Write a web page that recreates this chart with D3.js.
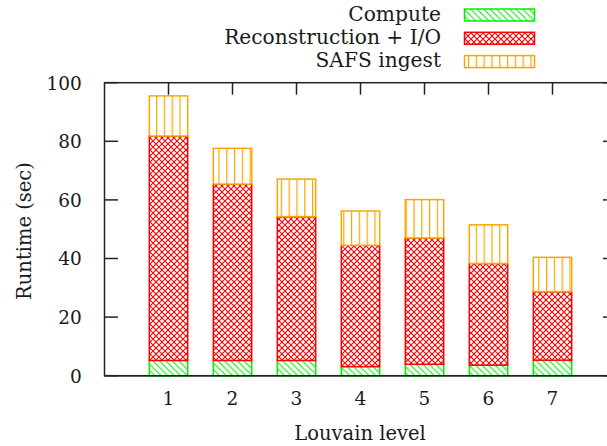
<!DOCTYPE html>
<html>
<head>
<meta charset="utf-8">
<script src="https://cdn.jsdelivr.net/npm/d3@7"></script>
<style>
  html, body { margin: 0; padding: 0; background: #fff; }
  svg { display: block; }
  text { fill: #1a1a1a; }
</style>
</head>
<body>
<svg id="chart" width="607" height="446"></svg>
<script>
// ---- data ----
const levels = [1, 2, 3, 4, 5, 6, 7];
const compute = [5.2, 5.2, 5.2, 3.1, 3.9, 3.6, 5.3];
const reconstruction = [76.6, 60.2, 49.1, 41.4, 43.1, 34.7, 23.4];
const safsIngest = [13.7, 12.2, 12.8, 11.7, 13.1, 13.2, 11.7];
const seriesNames = ["Compute", "Reconstruction + I/O", "SAFS ingest"];
const yTicks = [0, 20, 40, 60, 80, 100];
const xLabel = "Louvain level";
const yLabel = "Runtime (sec)";

// ---- layout ----
const svg = d3.select("#chart");
const pL = 104.5, pR = 616.5, pT = 82.7, pB = 375.7;
const x = d3.scaleLinear().domain([0, 8]).range([pL, pR]);
const y = d3.scaleLinear().domain([0, 100]).range([pB, pT]);
const barW = 0.6;
const colors = ["#00ee00", "#ff0000", "#ffa500"];
const serif = "DejaVu Serif";

// ---- patterns ----
const defs = svg.append("defs");
const p0 = defs.append("pattern").attr("id", "pat0").attr("patternUnits", "userSpaceOnUse")
  .attr("width", 6.5).attr("height", 6.5);
p0.append("rect").attr("width", 6.5).attr("height", 6.5).attr("fill", "#fff");
p0.append("path").attr("d", "M-1,-1L7.5,7.5M-1,5.5L1,7.5M5.5,-1L7.5,1")
  .attr("stroke", colors[0]).attr("stroke-width", 1.1);
const p1 = defs.append("pattern").attr("id", "pat1").attr("patternUnits", "userSpaceOnUse")
  .attr("width", 6).attr("height", 6);
p1.append("rect").attr("width", 6).attr("height", 6).attr("fill", "#fff");
p1.append("path").attr("d", "M0,0L6,6M0,6L6,0")
  .attr("stroke", colors[1]).attr("stroke-width", 1.1);
const p2 = defs.append("pattern").attr("id", "pat2").attr("patternUnits", "userSpaceOnUse")
  .attr("width", 7.8).attr("height", 10);
p2.append("rect").attr("width", 7.8).attr("height", 10).attr("fill", "#fff");
p2.append("path").attr("d", "M0.6,0V10")
  .attr("stroke", colors[2]).attr("stroke-width", 1.2);

// ---- frame & ticks ----
const frame = svg.append("g").attr("stroke", "#222").attr("stroke-width", 1.5).attr("fill", "none");
frame.append("rect").attr("x", pL).attr("y", pT).attr("width", pR - pL).attr("height", pB - pT);
yTicks.forEach(t => {
  frame.append("line").attr("x1", pL).attr("x2", pL + 13.5).attr("y1", y(t)).attr("y2", y(t));
  frame.append("line").attr("x1", pR).attr("x2", pR - 13.5).attr("y1", y(t)).attr("y2", y(t));
});
levels.forEach(l => {
  frame.append("line").attr("x1", x(l)).attr("x2", x(l)).attr("y1", pB).attr("y2", pB - 12);
  frame.append("line").attr("x1", x(l)).attr("x2", x(l)).attr("y1", pT).attr("y2", pT + 12);
});

svg.append("g").selectAll("text").data(yTicks).join("text")
  .attr("x", 81.7).attr("y", d => y(d) + 6.8)
  .attr("text-anchor", "end").attr("font-family", serif).attr("font-size", 18.5)
  .text(d => d);
svg.append("g").selectAll("text").data(levels).join("text")
  .attr("x", d => x(d)).attr("y", 405)
  .attr("text-anchor", "middle").attr("font-family", serif).attr("font-size", 18.5)
  .text(d => d);

svg.append("text").attr("x", 360).attr("y", 440).attr("text-anchor", "middle")
  .attr("font-family", serif).attr("font-size", 19.5).text(xLabel);
svg.append("text").attr("transform", "translate(31,231) rotate(-90)").attr("text-anchor", "middle")
  .attr("font-family", serif).attr("font-size", 19.5).text(yLabel);

// ---- stacked bars ----
const stackData = levels.map((l, i) => ({ level: l, c: compute[i], r: reconstruction[i], s: safsIngest[i] }));
const stacked = d3.stack().keys(["c", "r", "s"])(stackData);
const bars = svg.append("g");
stacked.forEach((layer, k) => {
  bars.append("g").selectAll("rect").data(layer).join("rect")
    .attr("x", d => x(d.data.level - barW / 2))
    .attr("width", x(barW) - x(0))
    .attr("y", d => y(d[1]))
    .attr("height", d => y(d[0]) - y(d[1]))
    .attr("fill", `url(#pat${k})`)
    .attr("stroke", colors[k]).attr("stroke-width", 1.5);
});
svg.append("line").attr("x1", pL).attr("x2", pR).attr("y1", pB).attr("y2", pB)
  .attr("stroke", "#222").attr("stroke-width", 1.5);

// ---- legend ----
const legend = svg.append("g");
seriesNames.forEach((name, k) => {
  const cy = 15 + k * 23.3;
  legend.append("text").attr("x", 441).attr("y", cy + 5.5).attr("text-anchor", "end")
    .attr("font-family", serif).attr("font-size", 20.2).text(name);
  legend.append("rect").attr("x", 464.5).attr("y", cy - 6).attr("width", 70).attr("height", 12)
    .attr("fill", `url(#pat${k})`).attr("stroke", colors[k]).attr("stroke-width", 1.5);
});
</script>
</body>
</html>
